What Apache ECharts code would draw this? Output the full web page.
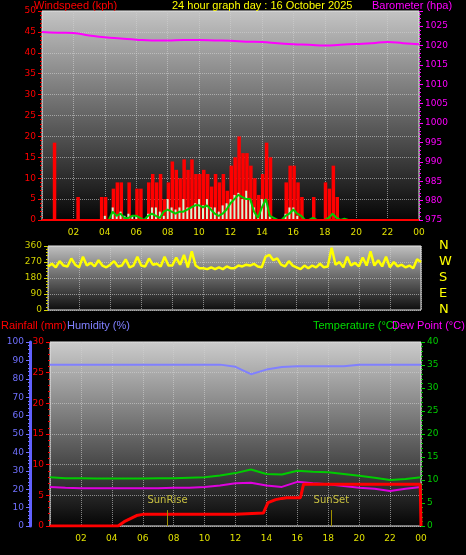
<!DOCTYPE html>
<html>
<head>
<meta charset="utf-8">
<script src="https://cdn.jsdelivr.net/npm/echarts@6/dist/echarts.min.js"></script>
<style>html,body{margin:0;background:#000}#main{width:466px;height:555px}</style>
</head>
<body>
<div id="main"></div>
<script>
// wind, 15 minute slots (kph)
var windGust = [
 0,0,0,18.5, 0,0,0,0, 0,5.5,0,0, 0,0,0,5.5,
 5.5,0,7.5,9, 9,0,9,0, 7.5,7.5,0,9, 11,9,11,5,
 9,14,12,10, 14.5,12,14.5,11, 11,12,11,8, 11,9,11,7,
 13,15,20,16, 16,13,10,6, 11,18.5,15,0, 0,0,9,13,
 13,9,5.5,0, 0,5.5,0,0, 9,7.5,13,5.5, 0,0,0,0,
 0,0,0,0, 0,0,0,0, 0,0,0,0, 0,0,0,0
];
var windAvgMax = [
 0,0,0,0, 0,0,0,0, 0,0,0,0, 0,0,0,0,
 1,0,3,1, 2,1,1.5,1, 1,0,0,1.5, 3,3,2,1,
 5,3,2.5,3, 5,3,3,4, 5,3.5,5,3, 3,2,3.5,4,
 5,6,6.5,5, 7,5,3,1, 5,5,1,0, 0,0,1.5,3,
 3,1,0,0, 0,0,0,0, 0,0,0,0, 0,0,0,0,
 0,0,0,0, 0,0,0,0, 0,0,0,0, 0,0,0,0
];
var windAvg = [
 0,0,0,0, 0,0,0,0, 0,0,0,0, 0,0,0,0,
 0,0,2,1, 1.5,0.5,0.5,1, 1,0.5,0,1, 1.5,1,0.5,2,
 2.5,2,1.5,2, 2,2.5,3,3.5, 3.5,3,3.5,2.5, 1.5,1,1.5,2.5,
 4,5,6,5.5, 5,5,2,0.5, 3,5,1,0.5, 0,0,1,1.5,
 2.5,1.5,1,0, 0,0.5,0,0, 0,0.5,1.5,0.5, 0,0.3,0,0,
 0,0,0,0, 0,0,0,0, 0,0,0,0, 0,0,0,0
];
var windDir = [
 245,260,240,275, 250,245,290,255, 240,300,250,265, 245,280,250,240,
 255,275,245,250, 285,240,250,300, 250,245,290,255, 260,245,300,250,
 250,295,255,310, 240,330,250,235, 235,230,240,230, 240,230,245,235,
 235,250,245,255, 250,260,245,240, 300,310,280,290, 255,245,275,250,
 240,230,250,235, 250,240,260,240, 245,350,255,270, 240,300,250,265,
 245,295,250,330, 250,280,245,300, 240,270,245,255, 240,250,235,285, 270
];
// hourly 0..24
var baro = [1023.5,1023.3,1023.2,1022.6,1022.1,1021.8,1021.5,1021.3,1021.3,1021.4,1021.4,1021.3,1021.2,1021,1020.9,1020.6,1020.3,1020.2,1020,1020.2,1020.4,1020.6,1020.9,1020.6,1020.3];
var temperature = [10.6,10.4,10.4,10.3,10.3,10.3,10.3,10.4,10.4,10.5,10.6,11.0,11.5,12.3,11.3,11.2,12.0,11.8,11.7,11.3,10.9,10.5,10.0,10.2,10.6];
var dewPoint = [8.5,8.3,8.2,8.2,8.2,8.2,8.2,8.2,8.3,8.3,8.5,8.8,9.3,9.4,8.8,8.5,9.6,9.3,9.1,8.7,8.3,8.1,7.6,8.1,8.5];
var humidity = [87.7,87.7,87.7,87.7,87.7,87.7,87.7,87.7,87.7,87.7,87.7,87.7,86.5,82.5,85,86.4,86.8,86.8,86.8,86.8,87.7,87.7,87.7,87.7,87.7];
var rainHours = [0,4.4,4.8,5.2,5.6,6,12,12.1,13.8,14.1,14.6,15.0,15.3,16.2,16.4,23.95,24];
var rainTotal = [0,0,0.7,1.2,1.7,1.9,1.9,2.1,2.1,3.8,4.3,4.5,4.6,4.6,6.8,6.8,0];

function q(arr){ return arr.map(function(v,i){ return [i/4, v]; }); }
function h(arr){ return arr.map(function(v,i){ return [i, v]; }); }
function grad(top, bot){
  return {type:'linear',x:0,y:0,x2:0,y2:1,colorStops:[{offset:0,color:top},{offset:1,color:bot}]};
}
var font = 'DejaVu Sans';
var tfont = '11px "Liberation Sans"';
var split = {show:true,lineStyle:{color:'#d0d0d0',type:'dotted',opacity:0.6}};
function xAx(i, labels){
  return {type:'value',gridIndex:i,min:0,max:24,interval:2,
    axisLine:{show:false},axisTick:{show:false},splitLine:split,
    axisLabel:{show:labels,color:'#e0e000',fontSize:9,fontFamily:font,
      formatter:function(v){ if(v===0) return ''; return v===24?'00':(v<10?'0'+v:''+v); }}};
}
function yAx(o){
  var a = {type:'value',axisLine:{show:false},
    axisTick:{show:true,length:4,lineStyle:{color:o.color}},
    minorTick:{show:true,length:2,splitNumber:5,lineStyle:{color:o.color}},
    splitLine:{show:false},
    axisLabel:{color:o.color,fontSize:9,fontFamily:font,margin:6}};
  for (var k in o) if (k!=='color') a[k]=o[k];
  return a;
}
function sunMark(x, name){
  return {silent:true,symbol:'none',lineStyle:{color:'#a09000',width:1,type:'solid'},
    label:{show:true,position:'end',formatter:name,color:'#c8c040',fontSize:10,fontFamily:font},
    data:[[{coord:[x,0]},{coord:[x,2.6]}]]};
}

var chart = echarts.init(document.getElementById('main'));
chart.setOption({
  backgroundColor:'#000',
  animation:false,
  graphic:[
    {type:'text',left:34,top:0,style:{text:'Windspeed (kph)',fill:'#ff0000',font:tfont}},
    {type:'text',left:172,top:0,style:{text:'24 hour graph day : 16 October 2025',fill:'#ffff00',font:tfont}},
    {type:'text',left:372,top:0,style:{text:'Barometer (hpa)',fill:'#ff00ff',font:tfont}},
    {type:'text',left:1,top:320,style:{text:'Rainfall (mm)',fill:'#ff0000',font:tfont}},
    {type:'text',left:67,top:320,style:{text:'Humidity (%)',fill:'#8080ff',font:tfont}},
    {type:'text',left:313,top:320,style:{text:'Temperature (°C)',fill:'#00dd00',font:tfont}},
    {type:'text',left:392,top:320,style:{text:'Dew Point (°C)',fill:'#ff00ff',font:tfont}}
  ],
  grid:[
    {left:42,right:47,top:11,height:209,show:true,borderColor:'#e8e8e8',borderWidth:1,backgroundColor:grad('#c4c4c4','#050505')},
    {left:48,right:45,top:246,height:64,show:true,borderColor:'#e8e8e8',borderWidth:1,backgroundColor:grad('#c0c0c0','#0c0c0c')},
    {left:50,right:45,top:342,height:184,show:true,borderColor:'#e8e8e8',borderWidth:1,backgroundColor:grad('#cccccc','#050505')}
  ],
  xAxis:[xAx(0,true),xAx(1,false),xAx(2,true)],
  yAxis:[
    yAx({gridIndex:0,min:0,max:50,interval:5,color:'#ff0000',splitLine:split}),
    yAx({gridIndex:0,min:975,max:1028.9,interval:5,position:'right',color:'#ff00ff',
      axisLabel:{color:'#ff00ff',fontSize:9,fontFamily:font,showMaxLabel:false,margin:6,
        formatter:function(v){ return String(v); }}}),
    yAx({gridIndex:1,min:0,max:360,interval:90,color:'#d0d000',splitLine:split}),
    yAx({gridIndex:1,min:0,max:360,interval:90,position:'right',color:'#ffff00',
      axisTick:{show:false},minorTick:{show:false},
      axisLabel:{color:'#ffff00',fontSize:13,fontFamily:font,margin:18,
        formatter:function(v){ return {0:'N',90:'E',180:'S',270:'W',360:'N'}[v]; }}}),
    yAx({gridIndex:2,min:0,max:30,interval:5,position:'left',color:'#ff0000',splitLine:split}),
    yAx({gridIndex:2,min:0,max:100,interval:10,position:'left',color:'#7070ff',offset:20,
      axisLine:{show:true,lineStyle:{color:'#6060ff',width:3}}}),
    yAx({gridIndex:2,min:0,max:40,interval:5,position:'right',color:'#00cc00'})
  ],
  series:[
    {type:'bar',xAxisIndex:0,yAxisIndex:0,data:q(windGust),barWidth:3.5,barGap:'-100%',
      itemStyle:{color:'#ff0000'},
      markLine:{silent:true,symbol:'none',label:{show:false},lineStyle:{color:'#ff0000',width:2,type:'solid'},data:[{yAxis:0}]}},
    {type:'bar',xAxisIndex:0,yAxisIndex:0,data:q(windAvgMax),barWidth:2,itemStyle:{color:'#d8f4d0'}},
    {type:'line',xAxisIndex:0,yAxisIndex:0,data:q(windAvg),showSymbol:false,lineStyle:{color:'#00cc00',width:2}},
    {type:'line',xAxisIndex:0,yAxisIndex:1,data:h(baro),showSymbol:false,smooth:true,lineStyle:{color:'#ff00ff',width:2}},
    {type:'line',xAxisIndex:1,yAxisIndex:2,data:q(windDir),showSymbol:false,lineStyle:{color:'#ffff00',width:2.5}},
    {type:'line',xAxisIndex:2,yAxisIndex:5,data:h(humidity),showSymbol:false,lineStyle:{color:'#8080ff',width:2}},
    {type:'line',xAxisIndex:2,yAxisIndex:6,data:h(temperature),showSymbol:false,lineStyle:{color:'#00cc00',width:2}},
    {type:'line',xAxisIndex:2,yAxisIndex:6,data:h(dewPoint),showSymbol:false,lineStyle:{color:'#e000e0',width:2}},
    {type:'line',xAxisIndex:2,yAxisIndex:4,showSymbol:false,lineStyle:{color:'#ff0000',width:3},
      data:rainHours.map(function(t,i){ return [t, rainTotal[i]]; }),
      markLine:sunMark(7.6,'SunRise')},
    {type:'line',xAxisIndex:2,yAxisIndex:4,data:[],markLine:sunMark(18.2,'SunSet')}
  ]
});
</script>
</body>
</html>
